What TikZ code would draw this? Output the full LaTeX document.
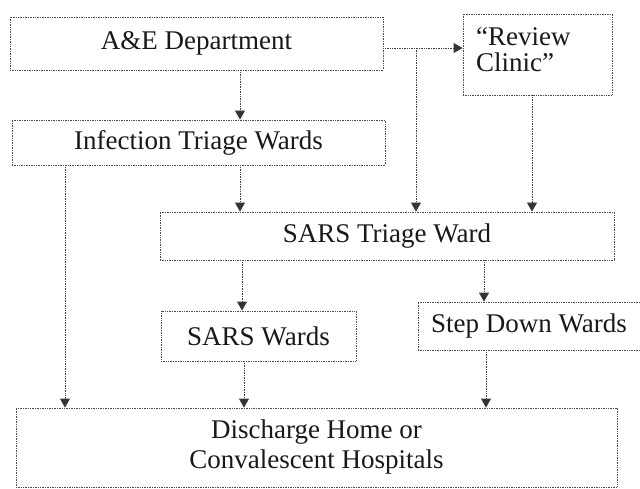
\documentclass[tikz,border=0pt]{standalone}
\usepackage{fontspec}
\setmainfont{Liberation Serif}
\newfontfamily\tnr{Liberation Serif}
\usetikzlibrary{arrows.meta}
\begin{document}
\begin{tikzpicture}[x=1pt,y=-1pt,
  box/.style={draw=black!70, densely dotted, line width=0.7pt, rectangle, inner sep=0pt,
              font=\tnr\fontsize{27}{30}\selectfont, text=black!90},
  arr/.style={draw=black!75, densely dotted, line width=0.7pt,
              -{Triangle[width=10pt,length=9pt,fill=black!80]}}]
\useasboundingbox[fill=white] (0,0) rectangle (640,489);

\node[box, minimum width=373pt, minimum height=53pt] (ae) at (196.5,43.5) {A\&E Department};
\node[box, minimum width=149pt, minimum height=81pt] (rc) at (537.5,54.5) {};
\node[font=\tnr\fontsize{27}{26.5}\selectfont, text=black!90, align=left, anchor=north west, inner sep=0pt] (rct) at (476,27) {“Review\\Clinic”};
\node[box, minimum width=373pt, minimum height=45pt] (it) at (198.5,142.5) {Infection Triage Wards};
\node[box, minimum width=454pt, minimum height=48pt] (st) at (387,236) {SARS Triage Ward};
\node[box, minimum width=195pt, minimum height=50pt] (sw) at (258.5,336) {SARS Wards};
\node[box, minimum width=222pt, minimum height=48pt] (sd) at (529,326) {Step Down Wards};
\node[box, minimum width=601pt, minimum height=79pt, align=center] (dh) at (316.5,447.5) {Discharge Home or\\Convalescent Hospitals};

\coordinate (xa) at (240,0);
\coordinate (xb) at (416,0);
\coordinate (xc) at (532,0);
\coordinate (xd) at (65,0);
\coordinate (xe) at (242,0);
\coordinate (xf) at (484,0);
\coordinate (xg) at (244,0);
\coordinate (xh) at (486,0);
\coordinate (ya) at (0,48);
\coordinate (br) at (416,48);

\draw[arr] (xa |- ae.south) -- (xa |- it.north);
\draw[arr] (ae.east |- ya) -- (rc.west |- ya);
\draw[arr] (br) -- (xb |- st.north);
\draw[arr] (xc |- rc.south) -- (xc |- st.north);
\draw[arr] (xa |- it.south) -- (xa |- st.north);
\draw[arr] (xd |- it.south) -- (xd |- dh.north);
\draw[arr] (xe |- st.south) -- (xe |- sw.north);
\draw[arr] (xf |- st.south) -- (xf |- sd.north);
\draw[arr] (xg |- sw.south) -- (xg |- dh.north);
\draw[arr] (xh |- sd.south) -- (xh |- dh.north);
\end{tikzpicture}
\end{document}
